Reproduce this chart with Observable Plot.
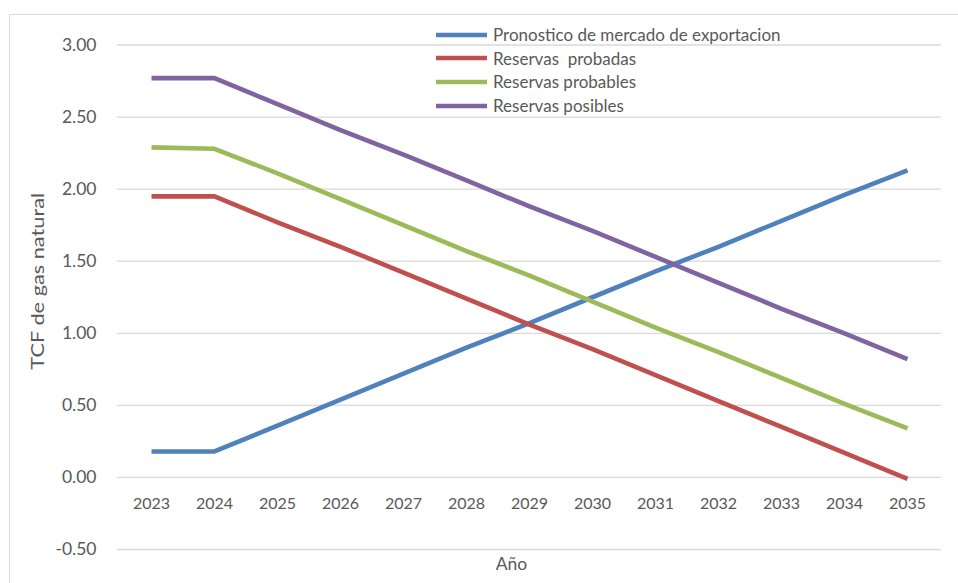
<!DOCTYPE html>
<html>
<head>
<meta charset="utf-8">
<script src="https://cdn.jsdelivr.net/npm/d3@7"></script>
<script src="https://cdn.jsdelivr.net/npm/@observablehq/plot@0.6"></script>
<style>
  html, body { margin: 0; padding: 0; background: #fff; overflow: hidden; }
  #wrap { position: relative; width: 958px; height: 583px; overflow: hidden; }
  #frame { position: absolute; left: 9px; top: 14px; width: 1000px; height: 700px; border: 1px solid #d9d9d9; box-sizing: border-box; }
  #legend { position: absolute; left: 436px; top: 23px; font-family: Lato, "Liberation Sans", sans-serif; font-size: 17px; color: #595959; }
  #legend .row { height: 23.6px; display: flex; align-items: center; white-space: pre; }
  #legend svg { margin-right: 6px; }
  #chart { position: absolute; left: 0; top: 0; }
</style>
</head>
<body>
<div id="wrap">
  <div id="frame"></div>
  <div id="chart"></div>
  <div id="legend"></div>
</div>
<script>
const years = [2023, 2024, 2025, 2026, 2027, 2028, 2029, 2030, 2031, 2032, 2033, 2034, 2035];
const seriesNames = [
  "Pronostico de mercado de exportacion",
  "Reservas  probadas",
  "Reservas probables",
  "Reservas posibles"
];
const seriesColors = ["#4F81BD", "#C0504D", "#9BBB59", "#8064A2"];
const mercado   = [0.18, 0.18, 0.36, 0.54, 0.72, 0.90, 1.07, 1.25, 1.43, 1.60, 1.78, 1.96, 2.13];
const probadas  = [1.95, 1.95, 1.77, 1.60, 1.42, 1.24, 1.06, 0.89, 0.71, 0.53, 0.35, 0.17, -0.01];
const probables = [2.29, 2.28, 2.11, 1.93, 1.75, 1.57, 1.40, 1.22, 1.04, 0.87, 0.69, 0.51, 0.34];
const posibles  = [2.77, 2.77, 2.59, 2.41, 2.24, 2.06, 1.88, 1.71, 1.53, 1.35, 1.17, 1.00, 0.82];
const yTicks = [-0.5, 0, 0.5, 1, 1.5, 2, 2.5, 3];
const yTitle = "TCF de gas natural";
const xTitle = "Año";

const allValues = [mercado, probadas, probables, posibles];
const rows = [];
seriesNames.forEach((name, s) => {
  years.forEach((yr, i) => rows.push({ year: yr, value: allValues[s][i], series: name }));
});

const font = "Lato, 'Liberation Sans', sans-serif";
const textColor = "#595959";

const chart = Plot.plot({
  width: 958,
  height: 583,
  marginLeft: 117,
  marginRight: 17,
  marginTop: 44.5,
  marginBottom: 34,
  style: { fontFamily: font, color: textColor, background: "transparent" },
  x: { type: "point", domain: years, padding: 0.5, axis: null },
  y: { domain: [-0.5, 3], axis: null },
  color: { domain: seriesNames, range: seriesColors },
  marks: [
    Plot.gridY(yTicks, { stroke: "#d9d9d9", strokeOpacity: 1, strokeWidth: 1.3 }),
    Plot.axisY(yTicks, {
      tickSize: 0, tickPadding: 21, tickFormat: d => d.toFixed(2),
      fontSize: 17.5, fill: textColor, label: null
    }),
    Plot.text(years, {
      x: d => d, y: () => 0, dy: 26, text: d => String(d),
      fontSize: 16, fill: textColor
    }),
    Plot.line(rows, {
      x: "year", y: "value", z: "series", stroke: "series",
      strokeWidth: 4.6, strokeLinecap: "butt", strokeLinejoin: "round"
    }),
    Plot.text([yTitle], {
      text: d => d, frameAnchor: "left", rotate: -90, dx: -79, dy: -16,
      fontSize: 17, fill: textColor, textAnchor: "middle"
    }),
    Plot.text([xTitle], {
      text: d => d, frameAnchor: "bottom", dx: -18, dy: 20,
      fontSize: 17.5, fill: textColor
    })
  ]
});
document.getElementById("chart").appendChild(chart);

// the reference's rotated title is stretched along its length
chart.querySelectorAll("text").forEach(t => {
  if (t.textContent === yTitle) {
    const tr = t.getAttribute("transform") || "";
    t.setAttribute("transform", tr + " scale(1.28,1)");
  }
});

const legend = document.getElementById("legend");
seriesNames.forEach((name, i) => {
  const row = document.createElement("div");
  row.className = "row";
  row.innerHTML = `<svg width="51" height="6"><line x1="0" x2="51" y1="3" y2="3" stroke="${seriesColors[i]}" stroke-width="4.6"/></svg><span></span>`;
  row.querySelector("span").textContent = name;
  legend.appendChild(row);
});
</script>
</body>
</html>
